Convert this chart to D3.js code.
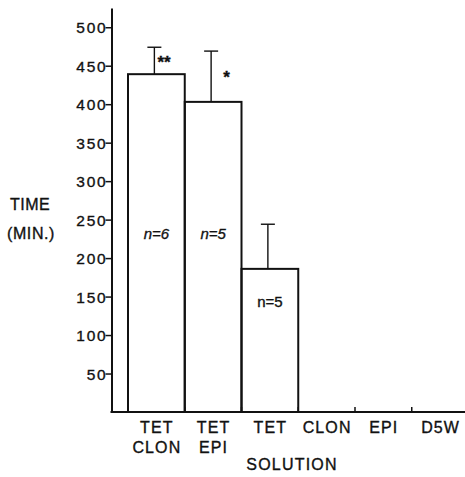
<!DOCTYPE html>
<html lang="en">
<head>
    <meta charset="utf-8">
    <script src="https://d3js.org/d3.v7.min.js"></script>
    <style>
        body { margin: 0; background: #fff; }
        svg text { font-family: "Liberation Sans", Arial, sans-serif; fill: #111; stroke: #111; stroke-width: 0.35px; }
    </style>
</head>
<body>
    <div id="chart"></div>
    <script>
        // data
        var categories = ["TET CLON", "TET EPI", "TET", "CLON", "EPI", "D5W"];
        var labelLines = [["TET", "CLON"], ["TET", "EPI"], ["TET"], ["CLON"], ["EPI"], ["D5W"]];
        var means = [439, 403, 186, null, null, null];
        var errUpper = [474, 469, 244, null, null, null];
        var nLabels = ["n=6", "n=5", "n=5", "", "", ""];
        var stars = ["**", "*", "", "", "", ""];
        var yTicks = [50, 100, 150, 200, 250, 300, 350, 400, 450, 500];

        var width = 465,
            height = 477,
            axisX = 111.5,
            baseY = 412;

        var svg = d3.select("#chart").append("svg")
            .attr("width", width)
            .attr("height", height);

        // y scale runs a bit past 500 so the axis line sticks out the top
        var y = d3.scaleLinear()
            .domain([0, 525])
            .range([baseY, 8]);

        var x = d3.scaleBand()
            .domain(categories)
            .range([128, 468.5])
            .padding(0);

        var rows = categories.map((c, i) => ({
            cat: c,
            lines: labelLines[i],
            mean: means[i],
            upper: errUpper[i],
            n: nLabels[i],
            star: stars[i]
        }));

        // y axis
        var yAxis = svg.append("g")
            .attr("transform", `translate(${axisX},0)`)
            .call(d3.axisLeft(y).tickValues(yTicks).tickSize(6).tickSizeOuter(0).tickPadding(-2));
        yAxis.select(".domain").attr("stroke", "#111").attr("stroke-width", 2);
        yAxis.selectAll(".tick line").attr("stroke", "#111").attr("stroke-width", 1.5);
        yAxis.selectAll(".tick text")
            .attr("font-size", 15.5)
            .attr("letter-spacing", 1.8)
            .attr("fill", "#111")
            .attr("dy", "0.36em");

        // error bars (drawn under the bar outline)
        var withData = rows.filter(d => d.mean != null);
        var err = svg.append("g")
            .attr("stroke", "#111")
            .attr("stroke-width", 1.4)
            .selectAll("g")
            .data(withData)
            .enter()
            .append("g");
        err.append("line")
            .attr("x1", d => x(d.cat) + x.bandwidth() / 2 - 2)
            .attr("x2", d => x(d.cat) + x.bandwidth() / 2 - 2)
            .attr("y1", d => y(d.mean))
            .attr("y2", d => y(d.upper));
        err.append("line")
            .attr("x1", d => x(d.cat) + x.bandwidth() / 2 - 9)
            .attr("x2", d => x(d.cat) + x.bandwidth() / 2 + 5)
            .attr("y1", d => y(d.upper))
            .attr("y2", d => y(d.upper));

        // bars
        svg.append("g")
            .selectAll("rect")
            .data(withData)
            .enter()
            .append("rect")
            .attr("x", d => x(d.cat))
            .attr("y", d => y(d.mean))
            .attr("width", x.bandwidth())
            .attr("height", d => y(0) - y(d.mean))
            .attr("fill", "none")
            .attr("stroke", "#111")
            .attr("stroke-width", 2);

        // x axis line and small inward ticks at the band edges
        svg.append("line")
            .attr("x1", axisX - 1)
            .attr("x2", width)
            .attr("y1", y(0))
            .attr("y2", y(0))
            .attr("stroke", "#111")
            .attr("stroke-width", 2);
        svg.append("g")
            .selectAll("line")
            .data(categories.slice(1))
            .enter()
            .append("line")
            .attr("x1", d => x(d))
            .attr("x2", d => x(d))
            .attr("y1", y(0))
            .attr("y2", y(0) - 5)
            .attr("stroke", "#111")
            .attr("stroke-width", 1.5);

        // category labels
        var cl = svg.append("g")
            .selectAll("text")
            .data(rows)
            .enter()
            .append("text")
            .attr("text-anchor", "middle")
            .attr("font-size", 16)
            .attr("letter-spacing", 1.1)
            .attr("x", d => x(d.cat) + x.bandwidth() / 2 + 0.5)
            .attr("y", 433);
        cl.selectAll("tspan")
            .data(d => d.lines.map(t => ({ t: t, x: x(d.cat) + x.bandwidth() / 2 + 0.5 })))
            .enter()
            .append("tspan")
            .attr("x", d => d.x)
            .attr("dy", (d, i) => i ? 20 : 0)
            .text(d => d.t);

        // n labels inside bars
        svg.append("g")
            .selectAll("text")
            .data(withData)
            .enter()
            .append("text")
            .attr("text-anchor", "middle")
            .attr("font-size", 15)
            .attr("font-style", (d, i) => i < 2 ? "italic" : "normal")
            .attr("x", d => x(d.cat) + x.bandwidth() / 2)
            .attr("y", (d, i) => i < 2 ? 239 : 307)
            .text(d => d.n);

        // significance stars
        svg.append("g")
            .selectAll("text")
            .data(withData)
            .enter()
            .append("text")
            .attr("font-size", 17)
            .attr("font-weight", "bold")
            .attr("x", (d, i) => x(d.cat) + x.bandwidth() / 2 + (i == 0 ? 1 : 10))
            .attr("y", (d, i) => i == 0 ? 68 : 83)
            .text(d => d.star);

        // axis titles
        svg.append("text")
            .attr("font-size", 16)
            .attr("letter-spacing", 0.5)
            .attr("x", 10)
            .attr("y", 210)
            .text("TIME");
        svg.append("text")
            .attr("font-size", 16)
            .attr("letter-spacing", 0.6)
            .attr("x", 7)
            .attr("y", 239)
            .text("(MIN.)");
        svg.append("text")
            .attr("font-size", 16)
            .attr("letter-spacing", 1.2)
            .attr("text-anchor", "middle")
            .attr("x", 292)
            .attr("y", 470)
            .text("SOLUTION");
    </script>
</body>
</html>
